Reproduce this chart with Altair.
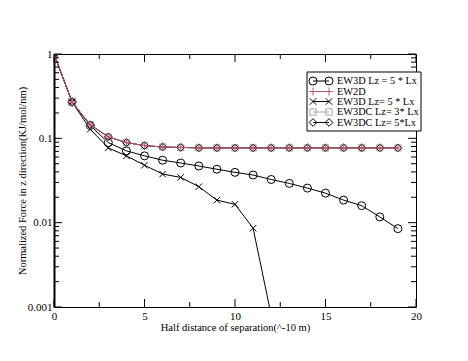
import altair as alt
import pandas as pd

# ---------------- data ----------------
xs = list(range(20))
ew3d_circ = [1.0, 0.27, 0.142, 0.089, 0.071, 0.062, 0.055, 0.051, 0.047, 0.043,
             0.0395, 0.0367, 0.0325, 0.0292, 0.0257, 0.0224, 0.0185, 0.0159, 0.0117, 0.0085]
ew2d = [1.0, 0.27, 0.145, 0.104, 0.089, 0.082, 0.079, 0.078, 0.077, 0.077,
        0.077, 0.077, 0.077, 0.077, 0.077, 0.077, 0.077, 0.077, 0.077, 0.077]
ew3dc3 = [1.0, 0.27, 0.145, 0.104, 0.089, 0.082, 0.079, 0.078, 0.077, 0.077,
          0.077, 0.077, 0.077, 0.077, 0.077, 0.077, 0.077, 0.077, 0.077, 0.077]
ew3dc5 = [1.0, 0.27, 0.145, 0.104, 0.089, 0.082, 0.079, 0.078, 0.077, 0.077,
          0.077, 0.077, 0.077, 0.077, 0.077, 0.077, 0.077, 0.077, 0.077, 0.077]
xs_cross = list(range(13))
ew3d_cross = [1.0, 0.27, 0.128, 0.077, 0.062, 0.048, 0.0377, 0.0344, 0.0267, 0.0185,
              0.0165, 0.0086, 0.0008]

labels = ["EW3D  Lz = 5 * Lx", "EW2D", "EW3D Lz= 5 * Lx", "EW3DC Lz= 3* Lx", "EW3DC Lz= 5*Lx"]

x_major = [0, 5, 10, 15, 20]
x_minor = [2.5, 7.5, 12.5, 17.5]
y_major = [0.001, 0.01, 0.1, 1]
y_minor = [m * d for d in [0.001, 0.01, 0.1] for m in range(2, 10)]

# ---------------- styling ----------------
W, H = 362, 253
FONT = "Liberation Serif"
RED = "#c4566a"
GREY = "#a8a8a8"

PLUS = "M-1,0L1,0M0,-1L0,1"
XSHAPE = "M-1,-1L1,1M-1,1L1,-1"

xscale = alt.Scale(domain=[0, 20], nice=False, zero=False)
yscale = alt.Scale(type="log", domain=[0.001, 1], nice=False)

xax = alt.Axis(values=x_major, ticks=False, tickSize=0, grid=False, domain=False,
               labelFont=FONT, labelFontSize=11, labelColor="black", labelPadding=3,
               labelFlush=False, title="Half distance of separation(^-10 m)",
               titleFont=FONT, titleFontSize=10.5, titleFontWeight="normal",
               titleColor="black", titleX=W / 2, titleY=20, titleBaseline="middle")
yax = alt.Axis(values=y_major, format="~g", ticks=False, tickSize=0, grid=False,
               domain=True, domainColor="black", domainWidth=2,
               labelFont=FONT, labelFontSize=11, labelColor="black", labelPadding=2,
               labelFlush=False,
               title="Normalized Force in z direction(KJ/mol/nm)",
               titleFont=FONT, titleFontSize=10.5, titleFontWeight="normal",
               titleColor="black", titleX=-32, titleY=H / 2, titleBaseline="middle")

series = [
    (xs, ew3d_circ, "black", "circle", 64),
    (xs, ew2d, RED, PLUS, 64),
    (xs_cross, ew3d_cross, "black", XSHAPE, 42),
    (xs, ew3dc3, GREY, "square", 40),
    (xs, ew3dc5, "black", "diamond", 60),
]

layers = []
order = [0, 2, 3, 4, 1]
for i in order:
    sx, sy, col, shp, sz = series[i]
    df = pd.DataFrame({"x": sx, "y": sy})
    base = alt.Chart(df).encode(
        x=alt.X("x:Q", scale=xscale, axis=xax),
        y=alt.Y("y:Q", scale=yscale, axis=yax),
    )
    layers.append(base.mark_line(color=col, strokeWidth=1, clip=True))
    layers.append(base.mark_point(shape=shp, size=sz, filled=False, color=col,
                                  strokeWidth=1, opacity=1, clip=True))

# ---------------- ticks (inward) ----------------
def yticks(vals, x1, x2):
    return alt.Chart(pd.DataFrame({"y": vals})).mark_rule(color="black", strokeWidth=1).encode(
        y=alt.Y("y:Q", scale=yscale, axis=yax), x=alt.value(x1), x2=alt.value(x2))

def xticks(vals, y1, y2):
    return alt.Chart(pd.DataFrame({"x": vals})).mark_rule(color="black", strokeWidth=1).encode(
        x=alt.X("x:Q", scale=xscale, axis=xax), y=alt.value(y1), y2=alt.value(y2))

layers += [
    yticks(y_major, 0, 8), yticks(y_minor, 0, 5),
    yticks(y_major, W, W - 8), yticks(y_minor, W, W - 5),
    xticks(x_major, H, H - 8), xticks(x_minor, H, H - 5),
    xticks(x_major, 0, 8), xticks(x_minor, 0, 5),
]

# ---------------- legend ----------------
one = pd.DataFrame({"a": [0]})
BX1, BX2, BY1, BY2 = 253, 367, 18, 77
layers.append(alt.Chart(one).mark_rect(fill="white", stroke="black", strokeWidth=1).encode(
    x=alt.value(BX1), x2=alt.value(BX2), y=alt.value(BY1), y2=alt.value(BY2)))
rows = [27, 37.5, 47.5, 58, 68.5]
for i, ry in enumerate(rows):
    sx, sy, col, shp, sz = series[i]
    layers.append(alt.Chart(one).mark_rule(color=col, strokeWidth=1).encode(
        x=alt.value(259), x2=alt.value(275), y=alt.value(ry)))
    for px in (259, 275):
        layers.append(alt.Chart(one).mark_point(shape=shp, size=sz, filled=False, color=col,
                                                strokeWidth=1, opacity=1).encode(
            x=alt.value(px), y=alt.value(ry)))
    layers.append(alt.Chart(one).mark_text(text=labels[i], font=FONT, fontSize=10.3,
                                           color="black", align="left", baseline="middle").encode(
        x=alt.value(283), y=alt.value(ry)))

chart = alt.layer(*layers).properties(
    width=W, height=H,
    autosize=alt.AutoSizeParams(type="none"),
    padding={"left": 46, "top": 46, "right": 44, "bottom": 46},
    background="white",
).configure_view(stroke="black", strokeWidth=1)

chart.save("out.html", embed_options={"renderer": "svg", "actions": False})
